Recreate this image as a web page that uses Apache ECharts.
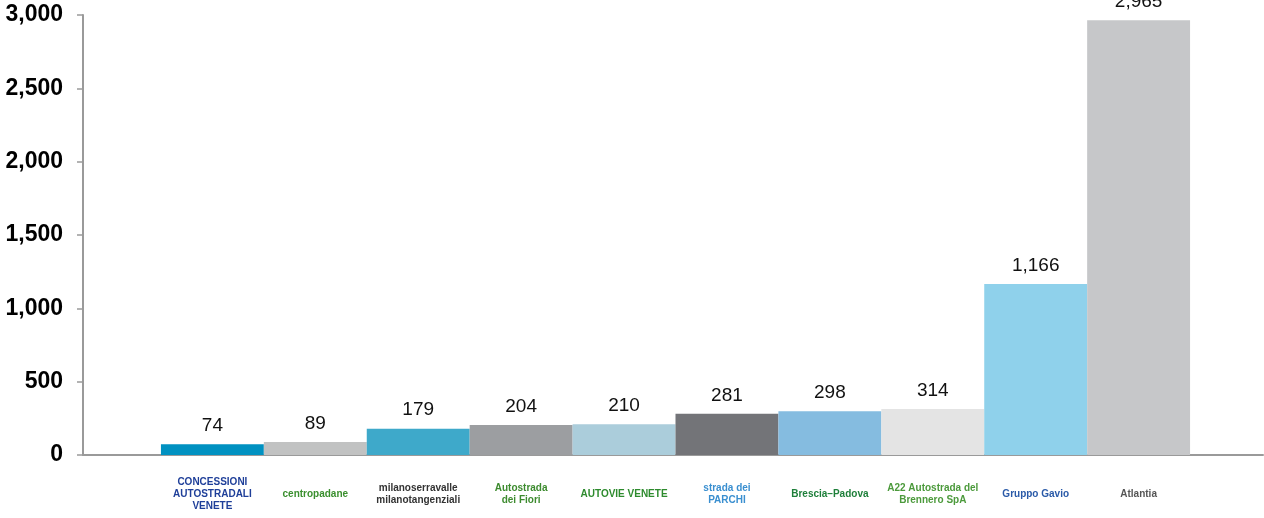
<!DOCTYPE html>
<html>
<head>
<meta charset="utf-8">
<script src="https://cdn.jsdelivr.net/npm/echarts@6/dist/echarts.min.js"></script>
<style>
html,body{margin:0;padding:0;background:#fff;}
#chart{width:1264px;height:518px;}
</style>
</head>
<body>
<div id="chart"></div>
<script>
// Categories (logos in the original, rendered as text here)
const categories = [
  'CONCESSIONI\nAUTOSTRADALI\nVENETE',
  'centropadane',
  'milanoserravalle\nmilanotangenziali',
  'Autostrada\ndei Fiori',
  'AUTOVIE VENETE',
  'strada dei\nPARCHI',
  'Brescia–Padova',
  'A22 Autostrada del\nBrennero SpA',
  'Gruppo Gavio',
  'Atlantia'
];
const values = [74, 89, 179, 204, 210, 281, 298, 314, 1166, 2965];
const barColors = ['#0091c1', '#c1c2c2', '#3ea9ca', '#9c9ea1', '#abcddb', '#737478', '#85bce0', '#e4e4e4', '#8fd1eb', '#c6c7c9'];
const labelColors = ['#1f3f99', '#3a8f2e', '#333333', '#3d8b2f', '#2e8b2e', '#3a8fd0', '#1e7f3a', '#4c9a3c', '#2a5aa8', '#555555'];
const yTicks = [0, 500, 1000, 1500, 2000, 2500, 3000];

const fmt = v => Number(v).toLocaleString('en-US');
const chart = echarts.init(document.getElementById('chart'));

const leftPad = 78 / 103;
const xMin = -0.5 - leftPad;
const xMax = xMin + 1181 / 103;

chart.setOption({
  animation: false,
  grid: { left: 83, right: 1, top: 15, bottom: 63, containLabel: false },
  xAxis: {
    type: 'value',
    min: xMin,
    max: xMax,
    axisLine: { show: true, onZero: false, lineStyle: { color: '#9a9a9a', width: 2 } },
    axisTick: { show: false },
    splitLine: { show: false },
    axisLabel: {
      customValues: categories.map((c, i) => i),
      formatter: v => {
        const i = Math.round(v);
        return (categories[i] || '').split('\n').map(s => '{c' + i + '|' + s + '}').join('\n');
      },
      margin: 39,
      verticalAlign: 'middle',
      rich: Object.fromEntries(labelColors.map((c, i) => ['c' + i, {
        color: c, fontFamily: 'Liberation Sans', fontSize: 10, lineHeight: 12, fontWeight: 'bold', align: 'center'
      }]))
    }
  },
  yAxis: {
    type: 'value',
    min: yTicks[0],
    max: yTicks[yTicks.length - 1],
    interval: 500,
    axisLine: { show: true, onZero: false, lineStyle: { color: '#9a9a9a', width: 2 } },
    axisTick: { show: true, inside: false, length: 6, lineStyle: { color: '#9a9a9a', width: 1.5 } },
    splitLine: { show: false },
    axisLabel: {
      formatter: v => fmt(v),
      margin: 20,
      fontFamily: 'Liberation Sans',
      fontSize: 23,
      fontWeight: 'bold',
      color: '#000'
    }
  },
  series: [{
    type: 'bar',
    barCategoryGap: '0%',
    barGap: '0%',
    data: values.map((v, i) => ({ value: [i, v], itemStyle: { color: barColors[i] } })),
    label: {
      show: true,
      position: 'top',
      distance: 9,
      formatter: p => fmt(p.value[1]),
      fontFamily: 'Liberation Sans',
      fontSize: 19,
      color: '#111'
    }
  }]
});
</script>
</body>
</html>
